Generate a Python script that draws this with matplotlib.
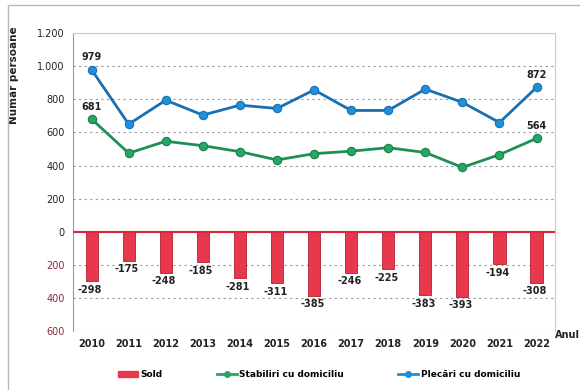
import matplotlib.pyplot as plt
import numpy as np
from matplotlib.patches import Rectangle
from matplotlib.lines import Line2D
from matplotlib.ticker import FixedLocator, FuncFormatter

# Date: migratia cu domiciliul, 2010-2022
ani = ['2010', '2011', '2012', '2013', '2014', '2015', '2016',
       '2017', '2018', '2019', '2020', '2021', '2022']
sold = [-298, -175, -248, -185, -281, -311, -385, -246, -225, -383, -393, -194, -308]
stabiliri = [681, 475, 547, 520, 484, 434, 472, 487, 508, 479, 389, 466, 564]
plecari = [979, 650, 795, 705, 765, 745, 857, 733, 733, 862, 782, 660, 872]

c_sold = '#e8394c'
c_stab = '#25a865'
c_plec = '#1e90d8'

fig = plt.figure(figsize=(5.8, 3.9), dpi=100)
ax = fig.add_axes([0.126, 0.151, 0.831, 0.764])

x = np.arange(len(ani))

# bare pentru sold
ax.bar(x, sold, width=0.33, color=c_sold, edgecolor='#b02030', linewidth=0.6, zorder=3)
ax.axhline(0, color='#d9263a', lw=1.5, zorder=4)

# liniile pentru stabiliri si plecari
ax.plot(x, stabiliri, color='#1f8f55', lw=2.0, marker='o', ms=6,
        mfc=c_stab, mec='#1b7d4a', mew=0.8, zorder=5)
ax.plot(x, plecari, color='#1a6fb0', lw=2.0, marker='o', ms=6,
        mfc=c_plec, mec='#1a70b0', mew=0.8, zorder=5)

# etichete pentru sold, sub fiecare bara
for xi, v in zip(x, sold):
    ax.text(xi - 0.05, v - 22, f'-{abs(v)}', ha='center', va='top',
            fontsize=7, fontweight='bold', color='#222222', zorder=6)

# etichete la capetele seriilor
for i in (0, len(ani) - 1):
    ax.text(x[i], plecari[i] + 45, str(plecari[i]), ha='center', va='bottom',
            fontsize=7, fontweight='bold', color='#222222')
    ax.text(x[i], stabiliri[i] + 45, str(stabiliri[i]), ha='center', va='bottom',
            fontsize=7, fontweight='bold', color='#222222')

ax.set_xlim(-0.5, 12.5)
ax.set_ylim(-600, 1200)
ax.set_xticks(x)
ax.set_xticklabels(ani, fontsize=7, fontweight='bold', color='#222222')
ax.yaxis.set_major_locator(FixedLocator(np.arange(-600, 1201, 200)))
ax.yaxis.set_major_formatter(FuncFormatter(lambda v, p: f'{abs(int(v)):,}'.replace(',', '.')))
for t, v in zip(ax.get_yticklabels(), np.arange(-600, 1201, 200)):
    t.set_fontsize(7)
    t.set_color('#8a2b3c' if v < 0 else '#222222')
ax.tick_params(axis='both', length=0, pad=6)

ax.grid(axis='y', linestyle=(0, (2, 3)), color='#9a9a9a', lw=0.8, zorder=0)

for s in ('top', 'right'):
    ax.spines[s].set_color('#c8c8d0')
    ax.spines[s].set_linewidth(0.8)
ax.spines['left'].set_color('#9a9aa8')
ax.spines['bottom'].set_visible(False)

ax.set_ylabel('Număr persoane', fontsize=7.5, fontweight='bold', color='#222222')
ax.yaxis.set_label_coords(-0.112, 0.86)
ax.text(1.0, -0.012, 'Anul', transform=ax.transAxes, ha='left', va='center',
        fontsize=7, fontweight='bold', color='#222222')

handles = [Rectangle((0, 0), 1, 1, color=c_sold),
           Line2D([], [], color=c_stab, lw=2, marker='o', ms=4),
           Line2D([], [], color=c_plec, lw=2, marker='o', ms=4)]
fig.legend(handles, ['Sold', 'Stabiliri cu domiciliu', 'Plecări cu domiciliu'],
           loc='center', bbox_to_anchor=(0.55, 0.04), ncol=3, frameon=False,
           prop={'size': 6.5, 'weight': 'bold'}, columnspacing=6,
           handlelength=2.2, handletextpad=0.3)

# chenarul graficului
fig.patches.append(Rectangle((0.014, -0.1), 1.2, 1.087, transform=fig.transFigure,
                             fill=False, edgecolor='#b8b8b8', lw=1.0))

fig.savefig('out.png', dpi=100)
